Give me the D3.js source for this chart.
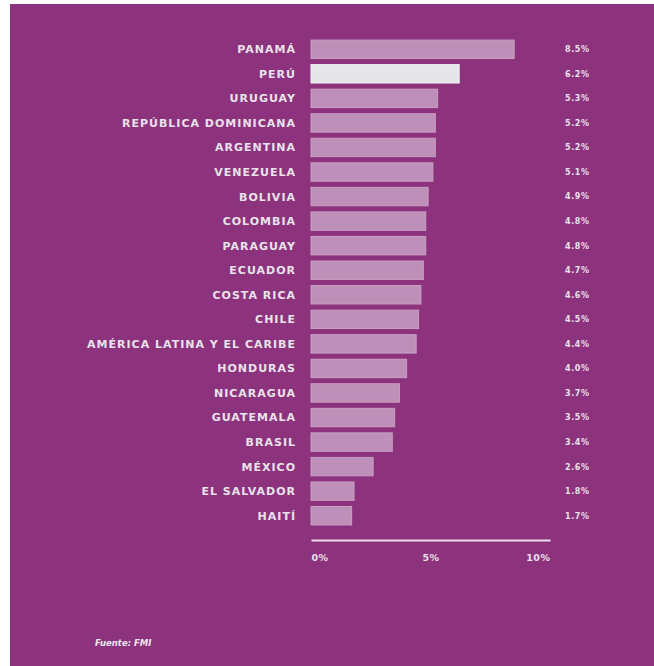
<!DOCTYPE html>
<html>
<head>
<meta charset="utf-8">
<script src="https://cdn.jsdelivr.net/npm/d3@7"></script>
<style>
  html, body { margin: 0; padding: 0; background: #ffffff; }
  svg { display: block; }
  text { font-family: "DejaVu Sans", Verdana, sans-serif; }
</style>
</head>
<body>
<svg id="chart" width="654" height="666"></svg>
<script>
// Crecimiento del PIB por país (%)
const countries = [
  "PANAMÁ", "PERÚ", "URUGUAY", "REPÚBLICA DOMINICANA", "ARGENTINA",
  "VENEZUELA", "BOLIVIA", "COLOMBIA", "PARAGUAY", "ECUADOR",
  "COSTA RICA", "CHILE", "AMÉRICA LATINA Y EL CARIBE", "HONDURAS",
  "NICARAGUA", "GUATEMALA", "BRASIL", "MÉXICO", "EL SALVADOR", "HAITÍ"
];
const growth = [8.5, 6.2, 5.3, 5.2, 5.2, 5.1, 4.9, 4.8, 4.8, 4.7,
                4.6, 4.5, 4.4, 4.0, 3.7, 3.5, 3.4, 2.6, 1.8, 1.7];
const highlighted = ["PERÚ"];
const axisTicks = [0, 5, 10];
const sourceNote = "Fuente: FMI";

const data = countries.map((c, i) => ({ country: c, value: growth[i] }));

const svg = d3.select("#chart");

// fondo morado
svg.append("rect")
  .attr("x", 10).attr("y", 4)
  .attr("width", 644).attr("height", 662)
  .attr("fill", "#8d337e");

const x = d3.scaleLinear().domain([0, 10]).range([311, 550]);
const y = d3.scaleBand()
  .domain(countries)
  .range([37, 528])
  .paddingInner(0.25)
  .paddingOuter(0.125);

// barras
svg.append("g")
  .selectAll("rect")
  .data(data)
  .join("rect")
  .attr("x", x(0))
  .attr("y", d => y(d.country))
  .attr("width", d => x(d.value) - x(0))
  .attr("height", y.bandwidth())
  .attr("fill", d => highlighted.includes(d.country) ? "#e6e6e8" : "#be8fb8")
  .attr("stroke", d => highlighted.includes(d.country) ? "#f2f2f2" : "#c99fc3")
  .attr("stroke-width", 1);

// nombres de países
svg.append("g")
  .selectAll("text")
  .data(data)
  .join("text")
  .attr("x", 296)
  .attr("y", d => y(d.country) + y.bandwidth() / 2)
  .attr("dy", "0.36em")
  .attr("text-anchor", "end")
  .attr("font-size", 11)
  .attr("font-weight", "bold")
  .attr("letter-spacing", 1.0)
  .attr("fill", "#e9e2ea")
  .text(d => d.country);

// valores
svg.append("g")
  .selectAll("text")
  .data(data)
  .join("text")
  .attr("x", 565)
  .attr("y", d => y(d.country) + y.bandwidth() / 2)
  .attr("dy", "0.36em")
  .attr("font-size", 8)
  .attr("font-weight", "bold")
  .attr("letter-spacing", 0.6)
  .attr("fill", "#e9e0ea")
  .text(d => d.value.toFixed(1) + "%");

// eje x
const axis = d3.axisBottom(x)
  .tickValues(axisTicks)
  .tickSize(0)
  .tickPadding(14)
  .tickFormat(d => d + "%");

const gx = svg.append("g")
  .attr("transform", "translate(0,540)")
  .call(axis);
gx.select(".domain")
  .attr("stroke", "#ecdcea")
  .attr("stroke-width", 2);
gx.selectAll(".tick text")
  .attr("fill", "#e9e0ea")
  .attr("font-size", 9.5)
  .attr("font-weight", "bold")
  .attr("letter-spacing", 0.5)
  .attr("font-family", "DejaVu Sans, sans-serif")
  .attr("text-anchor", (d, i) => i === 0 ? "start" : (i === axisTicks.length - 1 ? "end" : "middle"));

// fuente
svg.append("text")
  .attr("x", 95)
  .attr("y", 646)
  .attr("font-size", 8.5)
  .attr("font-weight", "bold")
  .attr("font-style", "italic")
  .attr("fill", "#f0e6f0")
  .text(sourceNote);
</script>
</body>
</html>
